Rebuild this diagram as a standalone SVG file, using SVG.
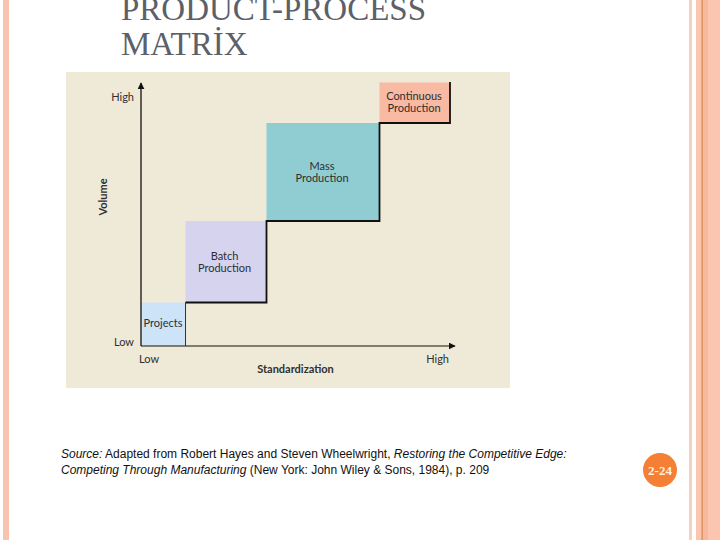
<svg xmlns="http://www.w3.org/2000/svg" width="720" height="540" viewBox="0 0 720 540">
<defs>
<style>
.lbl{font-family:Lato,"Open Sans",sans-serif;font-size:11px;fill:#2f2f2f}
.bold{font-weight:bold}
.title{font-family:"Liberation Serif","DejaVu Serif",serif;font-size:33px;fill:#5b6069}
.src{font-family:"Liberation Sans",Arial,sans-serif;font-size:12px;fill:#111}
</style>
<marker id="arr" viewBox="0 0 10 10" refX="9" refY="5" markerWidth="7" markerHeight="7" orient="auto" markerUnits="userSpaceOnUse">
<path d="M0,0 L10,5 L0,10 Z" fill="#111"/>
</marker>
</defs>
<rect width="720" height="540" fill="#ffffff"/>
<g id="frame">
<rect x="3" y="0" width="6" height="540" fill="#f8c4b0"/>
<rect x="689" y="0" width="3" height="540" fill="#f6d0c0"/>
<rect x="696" y="0" width="24" height="540" fill="#fcc5b0"/>
<rect x="702" y="0" width="6" height="540" fill="#f7b99c"/>
<rect x="701.5" y="0" width="1.2" height="540" fill="#d9874f"/>
</g>
<g id="title">
<text class="title" x="121" y="20">PRODUCT-PROCESS</text>
<text class="title" x="121" y="55">MATRİX</text>
</g>
<g id="chart">
<rect x="66" y="72" width="444" height="316" fill="#efe9d8"/>
<g id="projects">
<rect x="141" y="302.5" width="44.5" height="43.5" fill="#cde3f8"/>
<text class="lbl" x="163" y="327" text-anchor="middle">Projects</text>
</g>
<g id="batch">
<rect x="185.5" y="221" width="81" height="81.5" fill="#d5d3ee"/>
<text class="lbl" x="224.5" y="260" text-anchor="middle">Batch</text>
<text class="lbl" x="224.5" y="271.5" text-anchor="middle">Production</text>
</g>
<g id="mass">
<rect x="266.5" y="123" width="113" height="98" fill="#8fcdd3"/>
<text class="lbl" x="322" y="170" text-anchor="middle">Mass</text>
<text class="lbl" x="322" y="181.5" text-anchor="middle">Production</text>
</g>
<g id="continuous">
<rect x="379.5" y="82.5" width="70.5" height="40.5" fill="#f8baa3"/>
<text class="lbl" x="414" y="100" text-anchor="middle" font-size="10.5">Continuous</text>
<text class="lbl" x="414" y="111.5" text-anchor="middle" font-size="10.5">Production</text>
</g>
<g id="connectors">
<line x1="141" y1="346" x2="141" y2="83" stroke="#111" stroke-width="1.3" marker-end="url(#arr)"/>
<line x1="141" y1="346" x2="455" y2="346" stroke="#111" stroke-width="1" marker-end="url(#arr)"/>
<path d="M185.5,346 V302.5" fill="none" stroke="#333" stroke-width="1"/>
<path d="M185.5,302.5 H266.5 V221 H379.5 V123 H450 V82" fill="none" stroke="#111" stroke-width="1.8"/>
</g>
<g id="axis-labels">
<text class="lbl" x="134" y="101" text-anchor="end">High</text>
<text class="lbl" x="134" y="346" text-anchor="end">Low</text>
<text class="lbl" x="139" y="363">Low</text>
<text class="lbl" x="449" y="363" text-anchor="end">High</text>
<text class="lbl bold" x="295.5" y="373" text-anchor="middle">Standardization</text>
<text class="lbl bold" transform="translate(107,197) rotate(-90)" text-anchor="middle">Volume</text>
</g>
</g>
<g id="source">
<text class="src" x="61" y="458"><tspan font-style="italic">Source:</tspan> Adapted from Robert Hayes and Steven Wheelwright, <tspan font-style="italic">Restoring the Competitive Edge:</tspan></text>
<text class="src" x="61" y="474"><tspan font-style="italic">Competing Through Manufacturing</tspan> (New York: John Wiley &amp; Sons, 1984), p. 209</text>
</g>
<g id="page-number">
<circle cx="660" cy="470" r="17" fill="#f47f35"/>
<text x="660" y="474.5" text-anchor="middle" font-family="'Liberation Serif','DejaVu Serif',serif" font-size="13" font-weight="bold" fill="#fff3da">2-24</text>
</g>
</svg>
